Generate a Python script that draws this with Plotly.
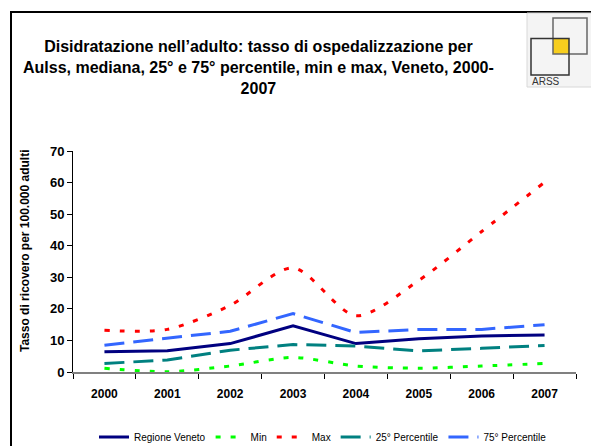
import plotly.graph_objects as go

years = ["2000", "2001", "2002", "2003", "2004", "2005", "2006", "2007"]
regione_veneto = [6.4, 6.7, 9.0, 14.6, 9.0, 10.5, 11.4, 11.7]
min_vals = [1.2, 0.1, 1.9, 4.6, 1.9, 1.2, 1.9, 2.7]
max_vals = [13.2, 13.5, 21.1, 33.0, 17.8, 29.0, 44.5, 60.1]
p25 = [2.7, 3.8, 6.9, 8.7, 8.2, 6.7, 7.5, 8.4]
p75 = [8.5, 10.6, 12.9, 18.5, 12.5, 13.5, 13.5, 15.0]
y_ticks = [0, 10, 20, 30, 40, 50, 60, 70]

# page body has an 8px default margin; compensate so the screenshot lines up
OFF = 8
W, H = 599, 446
L, R, T, B = 73, 23, 151, 74
PW, PH = W - L - R, H - T - B

def px(x):
    return (x - L) / PW

def py(y):
    return (H - B - y) / PH

FONT = "Liberation Sans"

fig = go.Figure()
fig.add_trace(go.Scatter(x=years, y=regione_veneto, name="Regione Veneto", mode="lines",
                         line=dict(color="#000080", width=3)))
fig.add_trace(go.Scatter(x=years, y=min_vals, name="Min", mode="lines",
                         line=dict(color="#00FF00", width=3, dash="5px,10px", shape="spline", smoothing=0.8)))
fig.add_trace(go.Scatter(x=years, y=max_vals, name="Max", mode="lines",
                         line=dict(color="#FF0000", width=3, dash="5px,10px", shape="spline", smoothing=0.8)))
fig.add_trace(go.Scatter(x=years, y=p25, name="25° Percentile", mode="lines",
                         line=dict(color="#008080", width=3, dash="20px,9px")))
fig.add_trace(go.Scatter(x=years, y=p75, name="75° Percentile", mode="lines",
                         line=dict(color="#3366FF", width=3, dash="20px,9px")))

shapes = [
    # outer frame
    dict(type="rect", xref="paper", yref="paper", x0=px(11), x1=px(597), y0=py(460), y1=py(12),
         line=dict(color="black", width=2), fillcolor="rgba(0,0,0,0)", layer="below"),
    # logo background
    dict(type="rect", xref="paper", yref="paper", x0=px(527), x1=px(595), y0=py(87), y1=py(13),
         line=dict(color="#d8d8d8", width=1), fillcolor="#f4f4f4", layer="below"),
    # yellow intersection
    dict(type="rect", xref="paper", yref="paper", x0=px(553), x1=px(569), y0=py(54), y1=py(38.5),
         line=dict(width=0), fillcolor="#F7CE1E"),
    # upper right square
    dict(type="rect", xref="paper", yref="paper", x0=px(553), x1=px(587), y0=py(54), y1=py(18),
         line=dict(color="#666666", width=1.5), fillcolor="rgba(0,0,0,0)"),
    # lower left square
    dict(type="rect", xref="paper", yref="paper", x0=px(531), x1=px(569), y0=py(75), y1=py(38.5),
         line=dict(color="#333333", width=1.5), fillcolor="rgba(0,0,0,0)"),
]

annotations = [
    dict(text="<b>Disidratazione nell’adulto: tasso di ospedalizzazione per<br>"
              "Aulss, mediana, 25° e 75° percentile, min e max, Veneto, 2000-<br>2007</b>",
         xref="paper", yref="paper", x=px(258), y=py(67), xanchor="center", yanchor="middle",
         showarrow=False, align="center", font=dict(family=FONT, size=16, color="black")),
    dict(text="<b>Tasso di ricovero per 100.000 adulti</b>", textangle=-90,
         xref="paper", yref="paper", x=px(25), y=py(251), xanchor="center", yanchor="middle",
         showarrow=False, font=dict(family=FONT, size=12, color="black")),
    dict(text="ARSS", xref="paper", yref="paper", x=px(530), y=py(81), xanchor="left", yanchor="middle",
         showarrow=False, font=dict(family=FONT, size=10, color="#333333")),
]

fig.update_layout(
    width=W - OFF, height=H - OFF,
    margin=dict(l=L - OFF, r=R, t=T - OFF, b=B, autoexpand=False),
    paper_bgcolor="white", plot_bgcolor="white",
    showlegend=True,
    legend=dict(orientation="h", x=px(323), y=py(437), xanchor="center", yanchor="middle",
                font=dict(family=FONT, size=10, color="black"), itemwidth=30,
                bgcolor="rgba(0,0,0,0)", tracegroupgap=0),
    shapes=shapes, annotations=annotations,
    font=dict(family=FONT),
)
fig.update_xaxes(type="category", range=[-0.5, 7.5], showgrid=False, zeroline=False,
                 showline=True, linecolor="#808080", linewidth=1.5,
                 ticks="outside", ticklen=5, tickcolor="black", tickson="boundaries",
                 ticklabelstandoff=10,
                 tickfont=dict(family=FONT, size=12, color="black", weight="bold"))
fig.update_yaxes(range=[0, 70], tickvals=y_ticks, showgrid=False, zeroline=False,
                 showline=True, linecolor="black", linewidth=1,
                 ticks="outside", ticklen=5, tickcolor="black",
                 tickfont=dict(family=FONT, size=13, color="black", weight="bold"))

fig.write_html("out.html")
